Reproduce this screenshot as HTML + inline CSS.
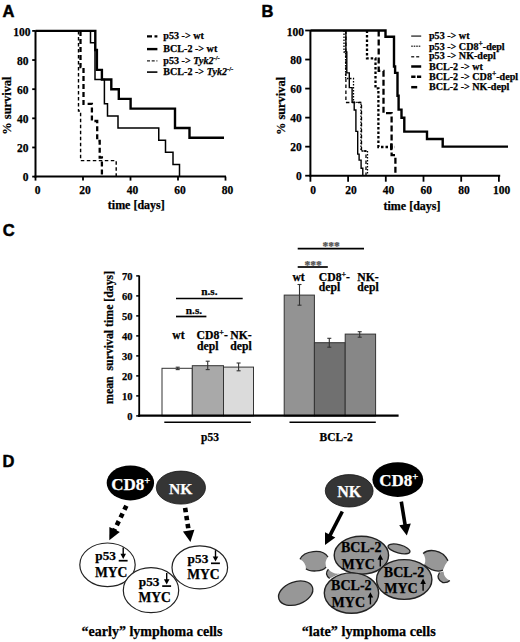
<!DOCTYPE html>
<html><head><meta charset="utf-8"><style>
html,body{margin:0;padding:0;background:#fff;}
svg{display:block;}
</style></head><body>
<svg width="520" height="642" viewBox="0 0 520 642">
<rect width="520" height="642" fill="#fff"/>
<text x="2.5" y="16.8" font-size="16.5" text-anchor="start" fill="#000" stroke="#000" stroke-width="0.5" font-weight="bold" style='font-family:"Liberation Sans", sans-serif' >A</text>
<text x="261.5" y="16.9" font-size="16.5" text-anchor="start" fill="#000" stroke="#000" stroke-width="0.5" font-weight="bold" style='font-family:"Liberation Sans", sans-serif' >B</text>
<text x="2.8" y="236" font-size="16.5" text-anchor="start" fill="#000" stroke="#000" stroke-width="0.5" font-weight="bold" style='font-family:"Liberation Sans", sans-serif' >C</text>
<text x="2.5" y="467.3" font-size="16.5" text-anchor="start" fill="#000" stroke="#000" stroke-width="0.5" font-weight="bold" style='font-family:"Liberation Sans", sans-serif' >D</text>
<line x1="35.5" y1="30.4" x2="35.5" y2="177.6" stroke="#000" stroke-width="2" stroke-linecap="butt"/>
<line x1="34.5" y1="176.6" x2="226.0" y2="176.6" stroke="#000" stroke-width="2" stroke-linecap="butt"/>
<line x1="32.2" y1="176.6" x2="35.5" y2="176.6" stroke="#000" stroke-width="1.8" stroke-linecap="butt"/>
<text x="28.4" y="181.2" font-size="11.5" text-anchor="end" fill="#000" stroke="#000" stroke-width="0.25" font-weight="bold" style='font-family:"Liberation Serif", serif' >0</text>
<line x1="32.2" y1="147.46" x2="35.5" y2="147.46" stroke="#000" stroke-width="1.8" stroke-linecap="butt"/>
<text x="28.4" y="152.06" font-size="11.5" text-anchor="end" fill="#000" stroke="#000" stroke-width="0.25" font-weight="bold" style='font-family:"Liberation Serif", serif' >20</text>
<line x1="32.2" y1="118.32" x2="35.5" y2="118.32" stroke="#000" stroke-width="1.8" stroke-linecap="butt"/>
<text x="28.4" y="122.91999999999999" font-size="11.5" text-anchor="end" fill="#000" stroke="#000" stroke-width="0.25" font-weight="bold" style='font-family:"Liberation Serif", serif' >40</text>
<line x1="32.2" y1="89.18" x2="35.5" y2="89.18" stroke="#000" stroke-width="1.8" stroke-linecap="butt"/>
<text x="28.4" y="93.78" font-size="11.5" text-anchor="end" fill="#000" stroke="#000" stroke-width="0.25" font-weight="bold" style='font-family:"Liberation Serif", serif' >60</text>
<line x1="32.2" y1="60.040000000000006" x2="35.5" y2="60.040000000000006" stroke="#000" stroke-width="1.8" stroke-linecap="butt"/>
<text x="28.4" y="64.64" font-size="11.5" text-anchor="end" fill="#000" stroke="#000" stroke-width="0.25" font-weight="bold" style='font-family:"Liberation Serif", serif' >80</text>
<line x1="32.2" y1="30.900000000000006" x2="35.5" y2="30.900000000000006" stroke="#000" stroke-width="1.8" stroke-linecap="butt"/>
<text x="30.5" y="35.900000000000006" font-size="11.5" text-anchor="end" fill="#000" stroke="#000" stroke-width="0.25" font-weight="bold" style='font-family:"Liberation Serif", serif' >100</text>
<line x1="35.5" y1="176.6" x2="35.5" y2="180.6" stroke="#000" stroke-width="1.8" stroke-linecap="butt"/>
<text x="37.5" y="194.1" font-size="11.5" text-anchor="middle" fill="#000" stroke="#000" stroke-width="0.25" font-weight="bold" style='font-family:"Liberation Serif", serif' >0</text>
<line x1="83.0" y1="176.6" x2="83.0" y2="180.6" stroke="#000" stroke-width="1.8" stroke-linecap="butt"/>
<text x="85.0" y="194.1" font-size="11.5" text-anchor="middle" fill="#000" stroke="#000" stroke-width="0.25" font-weight="bold" style='font-family:"Liberation Serif", serif' >20</text>
<line x1="130.5" y1="176.6" x2="130.5" y2="180.6" stroke="#000" stroke-width="1.8" stroke-linecap="butt"/>
<text x="132.5" y="194.1" font-size="11.5" text-anchor="middle" fill="#000" stroke="#000" stroke-width="0.25" font-weight="bold" style='font-family:"Liberation Serif", serif' >40</text>
<line x1="178.0" y1="176.6" x2="178.0" y2="180.6" stroke="#000" stroke-width="1.8" stroke-linecap="butt"/>
<text x="180.0" y="194.1" font-size="11.5" text-anchor="middle" fill="#000" stroke="#000" stroke-width="0.25" font-weight="bold" style='font-family:"Liberation Serif", serif' >60</text>
<line x1="225.5" y1="176.6" x2="225.5" y2="180.6" stroke="#000" stroke-width="1.8" stroke-linecap="butt"/>
<text x="227.5" y="194.1" font-size="11.5" text-anchor="middle" fill="#000" stroke="#000" stroke-width="0.25" font-weight="bold" style='font-family:"Liberation Serif", serif' >80</text>
<text x="136.3" y="209.2" font-size="12" text-anchor="middle" fill="#000" stroke="#000" stroke-width="0.25" font-weight="bold" style='font-family:"Liberation Serif", serif' >time [days]</text>
<text x="0" y="0" font-size="12.4" text-anchor="middle" fill="#000" stroke="#000" stroke-width="0.25" font-weight="bold" style='font-family:"Liberation Serif", serif' transform="translate(11.3,105.6) rotate(-90)">% survival</text>
<line x1="310.4" y1="30.0" x2="310.4" y2="176.7" stroke="#000" stroke-width="2" stroke-linecap="butt"/>
<line x1="309.4" y1="175.7" x2="500.2" y2="175.7" stroke="#000" stroke-width="2" stroke-linecap="butt"/>
<line x1="305.2" y1="175.7" x2="310.4" y2="175.7" stroke="#000" stroke-width="1.8" stroke-linecap="butt"/>
<text x="301.79999999999995" y="180.29999999999998" font-size="11.5" text-anchor="end" fill="#000" stroke="#000" stroke-width="0.25" font-weight="bold" style='font-family:"Liberation Serif", serif' >0</text>
<line x1="305.2" y1="146.66" x2="310.4" y2="146.66" stroke="#000" stroke-width="1.8" stroke-linecap="butt"/>
<text x="301.79999999999995" y="151.26" font-size="11.5" text-anchor="end" fill="#000" stroke="#000" stroke-width="0.25" font-weight="bold" style='font-family:"Liberation Serif", serif' >20</text>
<line x1="305.2" y1="117.61999999999999" x2="310.4" y2="117.61999999999999" stroke="#000" stroke-width="1.8" stroke-linecap="butt"/>
<text x="301.79999999999995" y="122.21999999999998" font-size="11.5" text-anchor="end" fill="#000" stroke="#000" stroke-width="0.25" font-weight="bold" style='font-family:"Liberation Serif", serif' >40</text>
<line x1="305.2" y1="88.57999999999998" x2="310.4" y2="88.57999999999998" stroke="#000" stroke-width="1.8" stroke-linecap="butt"/>
<text x="301.79999999999995" y="93.17999999999998" font-size="11.5" text-anchor="end" fill="#000" stroke="#000" stroke-width="0.25" font-weight="bold" style='font-family:"Liberation Serif", serif' >60</text>
<line x1="305.2" y1="59.53999999999999" x2="310.4" y2="59.53999999999999" stroke="#000" stroke-width="1.8" stroke-linecap="butt"/>
<text x="301.79999999999995" y="64.13999999999999" font-size="11.5" text-anchor="end" fill="#000" stroke="#000" stroke-width="0.25" font-weight="bold" style='font-family:"Liberation Serif", serif' >80</text>
<line x1="305.2" y1="30.5" x2="310.4" y2="30.5" stroke="#000" stroke-width="1.8" stroke-linecap="butt"/>
<text x="303.9" y="35.5" font-size="11.5" text-anchor="end" fill="#000" stroke="#000" stroke-width="0.25" font-weight="bold" style='font-family:"Liberation Serif", serif' >100</text>
<line x1="310.4" y1="175.7" x2="310.4" y2="181.7" stroke="#000" stroke-width="1.8" stroke-linecap="butt"/>
<text x="313.2" y="194.2" font-size="11.5" text-anchor="middle" fill="#000" stroke="#000" stroke-width="0.25" font-weight="bold" style='font-family:"Liberation Serif", serif' >0</text>
<line x1="348.09999999999997" y1="175.7" x2="348.09999999999997" y2="181.7" stroke="#000" stroke-width="1.8" stroke-linecap="butt"/>
<text x="350.9" y="194.2" font-size="11.5" text-anchor="middle" fill="#000" stroke="#000" stroke-width="0.25" font-weight="bold" style='font-family:"Liberation Serif", serif' >20</text>
<line x1="385.79999999999995" y1="175.7" x2="385.79999999999995" y2="181.7" stroke="#000" stroke-width="1.8" stroke-linecap="butt"/>
<text x="388.59999999999997" y="194.2" font-size="11.5" text-anchor="middle" fill="#000" stroke="#000" stroke-width="0.25" font-weight="bold" style='font-family:"Liberation Serif", serif' >40</text>
<line x1="423.5" y1="175.7" x2="423.5" y2="181.7" stroke="#000" stroke-width="1.8" stroke-linecap="butt"/>
<text x="426.3" y="194.2" font-size="11.5" text-anchor="middle" fill="#000" stroke="#000" stroke-width="0.25" font-weight="bold" style='font-family:"Liberation Serif", serif' >60</text>
<line x1="461.2" y1="175.7" x2="461.2" y2="181.7" stroke="#000" stroke-width="1.8" stroke-linecap="butt"/>
<text x="464.0" y="194.2" font-size="11.5" text-anchor="middle" fill="#000" stroke="#000" stroke-width="0.25" font-weight="bold" style='font-family:"Liberation Serif", serif' >80</text>
<line x1="498.9" y1="175.7" x2="498.9" y2="181.7" stroke="#000" stroke-width="1.8" stroke-linecap="butt"/>
<text x="501.7" y="194.2" font-size="11.5" text-anchor="middle" fill="#000" stroke="#000" stroke-width="0.25" font-weight="bold" style='font-family:"Liberation Serif", serif' >100</text>
<text x="412" y="210" font-size="12" text-anchor="middle" fill="#000" stroke="#000" stroke-width="0.25" font-weight="bold" style='font-family:"Liberation Serif", serif' >time [days]</text>
<text x="0" y="0" font-size="12.4" text-anchor="middle" fill="#000" stroke="#000" stroke-width="0.25" font-weight="bold" style='font-family:"Liberation Serif", serif' transform="translate(285.3,106) rotate(-90)">% survival</text>
<path d="M78.5,30.9 V111 H80.6 V160.6 H116.2 V176.6" stroke="#000" stroke-width="1.4" fill="none" stroke-dasharray="3.5,2.5" />
<path d="M80.5,30.9 V67 H83.5 V103.8 H91.9 V121 H97.2 V141 H99.7 V157.5 H101.9 V176.6" stroke="#000" stroke-width="2.3" fill="none" stroke-dasharray="5,3" />
<path d="M90.5,30.9 V42.8 H95 V79.5 H104.4 V103.8 H107.5 V116 H118 V128 H158.75 V140.2 H165.5 V152.3 H173 V164.5 H179.5 V176.6" stroke="#000" stroke-width="1.5" fill="none" />
<path d="M35.5,30.9 H95.3 V50 H96.9 V69.9 H101.9 V79.5 H111.3 V89.2 H118.8 V98.9 H130.6 V108.6 H175 V128 H189.5 V137.8 H224" stroke="#000" stroke-width="2.4" fill="none" />
<line x1="147" y1="36.3" x2="157.4" y2="36.3" stroke="#000" stroke-width="2.3" stroke-linecap="butt" stroke-dasharray="5,2.5"/>
<text x="163.3" y="39.2" font-size="10.1" text-anchor="start" fill="#000" stroke="#000" stroke-width="0.25" font-weight="bold" style='font-family:"Liberation Serif", serif' >p53 -&gt; wt</text>
<line x1="147" y1="49.1" x2="157.4" y2="49.1" stroke="#000" stroke-width="2.4" stroke-linecap="butt"/>
<text x="163.3" y="51.7" font-size="10.1" text-anchor="start" fill="#000" stroke="#000" stroke-width="0.25" font-weight="bold" style='font-family:"Liberation Serif", serif' >BCL-2 -&gt; wt</text>
<line x1="147" y1="60.9" x2="157.4" y2="60.9" stroke="#222" stroke-width="1.3" stroke-linecap="butt" stroke-dasharray="3,1.7"/>
<text x="163.3" y="63.5" font-size="10.1" text-anchor="start" fill="#000" stroke="#000" stroke-width="0.25" font-weight="bold" style='font-family:"Liberation Serif", serif' >p53 -&gt; <tspan font-style="italic">Tyk2</tspan><tspan font-size="6.5" dy="-4">-/-</tspan></text>
<line x1="147" y1="72.1" x2="157.4" y2="72.1" stroke="#111" stroke-width="1.7" stroke-linecap="butt"/>
<text x="163.3" y="75.1" font-size="10.1" text-anchor="start" fill="#000" stroke="#000" stroke-width="0.25" font-weight="bold" style='font-family:"Liberation Serif", serif' >BCL-2 -&gt; <tspan font-style="italic">Tyk2</tspan><tspan font-size="6.5" dy="-4">-/-</tspan></text>
<path d="M344.0,30.5 V52 H345.6 V78.5 H353.5 V102.3 H361 V151 H367.5 V175.7" stroke="#000" stroke-width="1.3" fill="none" stroke-dasharray="1.5,1.5" />
<path d="M345.9,30.5 V102.5 H361.5 V151 H366 V175.7" stroke="#000" stroke-width="1.3" fill="none" stroke-dasharray="3.5,2.5" />
<path d="M345.9,30.5 V52 H346.8 V72.9 H349.3 V87.6 H352.1 V102.3 H354.2 V110 H355.9 V131.4 H357.7 V154.1 H359.1 V160.1 H361.1 V168.3 H362.8 V175.7" stroke="#000" stroke-width="1.4" fill="none" />
<path d="M367,30.5 V58.3 H375.5 V88.3 H378.4 V147 H394.7" stroke="#000" stroke-width="2.3" fill="none" stroke-dasharray="2.5,2" />
<line x1="391.2" y1="143.4" x2="391.2" y2="150.2" stroke="#000" stroke-width="2.2" stroke-linecap="butt"/>
<path d="M378.7,30.5 V70.9 H383.5 V113.2 H391.6 V155.2 H395.4 V175.7" stroke="#000" stroke-width="2.3" fill="none" stroke-dasharray="6,3" />
<path d="M310.4,30.5 H385.5 V36.7 H394 V66.5 H395.1 V72.9 H397.5 V95.7 H398.6 V109.6 H401.5 V117.7 H404.3 V131.6 H427 V139 H442.7 V146.6 H508" stroke="#000" stroke-width="2.4" fill="none" />
<line x1="411.2" y1="36.1" x2="421.2" y2="36.1" stroke="#444" stroke-width="1.5" stroke-linecap="butt"/>
<text x="429.0" y="39.3" font-size="10.1" text-anchor="start" fill="#000" stroke="#000" stroke-width="0.25" font-weight="bold" style='font-family:"Liberation Serif", serif' >p53 -&gt; wt</text>
<line x1="411.2" y1="46.2" x2="421.2" y2="46.2" stroke="#444" stroke-width="1.5" stroke-linecap="butt" stroke-dasharray="1.6,0.9"/>
<text x="429.0" y="49.6" font-size="10.1" text-anchor="start" fill="#000" stroke="#000" stroke-width="0.25" font-weight="bold" style='font-family:"Liberation Serif", serif' >p53 -&gt; CD8<tspan font-size="7.5" dy="-4">+</tspan><tspan dy="4">-depl</tspan></text>
<line x1="411.2" y1="56.8" x2="421.2" y2="56.8" stroke="#333" stroke-width="1.5" stroke-linecap="butt" stroke-dasharray="3,2"/>
<text x="429.0" y="59.4" font-size="10.1" text-anchor="start" fill="#000" stroke="#000" stroke-width="0.25" font-weight="bold" style='font-family:"Liberation Serif", serif' >p53 -&gt; NK-depl</text>
<line x1="411.2" y1="66.5" x2="421.2" y2="66.5" stroke="#000" stroke-width="2.5" stroke-linecap="butt"/>
<text x="429.0" y="69.7" font-size="10.1" text-anchor="start" fill="#000" stroke="#000" stroke-width="0.25" font-weight="bold" style='font-family:"Liberation Serif", serif' >BCL-2 -&gt; wt</text>
<line x1="411.2" y1="76.8" x2="421.2" y2="76.8" stroke="#000" stroke-width="2.5" stroke-linecap="butt" stroke-dasharray="4.3,1.5"/>
<text x="429.0" y="79.7" font-size="10.1" text-anchor="start" fill="#000" stroke="#000" stroke-width="0.25" font-weight="bold" style='font-family:"Liberation Serif", serif' >BCL-2 -&gt; CD8<tspan font-size="7.5" dy="-4">+</tspan><tspan dy="4">-depl</tspan></text>
<line x1="411.2" y1="87.2" x2="417.2" y2="87.2" stroke="#000" stroke-width="2.5" stroke-linecap="butt"/>
<text x="429.0" y="89.6" font-size="10.1" text-anchor="start" fill="#000" stroke="#000" stroke-width="0.25" font-weight="bold" style='font-family:"Liberation Serif", serif' >BCL-2 -&gt; NK-depl</text>
<line x1="139.2" y1="275.5" x2="139.2" y2="416.9" stroke="#000" stroke-width="1.8" stroke-linecap="butt"/>
<line x1="136.2" y1="415.9" x2="139.2" y2="415.9" stroke="#000" stroke-width="1.5" stroke-linecap="butt"/>
<text x="132.6" y="419.59999999999997" font-size="10.5" text-anchor="end" fill="#000" stroke="#000" stroke-width="0.25" font-weight="bold" style='font-family:"Liberation Serif", serif' >0</text>
<line x1="136.2" y1="395.9" x2="139.2" y2="395.9" stroke="#000" stroke-width="1.5" stroke-linecap="butt"/>
<text x="132.6" y="399.59999999999997" font-size="10.5" text-anchor="end" fill="#000" stroke="#000" stroke-width="0.25" font-weight="bold" style='font-family:"Liberation Serif", serif' >10</text>
<line x1="136.2" y1="375.9" x2="139.2" y2="375.9" stroke="#000" stroke-width="1.5" stroke-linecap="butt"/>
<text x="132.6" y="379.59999999999997" font-size="10.5" text-anchor="end" fill="#000" stroke="#000" stroke-width="0.25" font-weight="bold" style='font-family:"Liberation Serif", serif' >20</text>
<line x1="136.2" y1="355.9" x2="139.2" y2="355.9" stroke="#000" stroke-width="1.5" stroke-linecap="butt"/>
<text x="132.6" y="359.59999999999997" font-size="10.5" text-anchor="end" fill="#000" stroke="#000" stroke-width="0.25" font-weight="bold" style='font-family:"Liberation Serif", serif' >30</text>
<line x1="136.2" y1="335.9" x2="139.2" y2="335.9" stroke="#000" stroke-width="1.5" stroke-linecap="butt"/>
<text x="132.6" y="339.59999999999997" font-size="10.5" text-anchor="end" fill="#000" stroke="#000" stroke-width="0.25" font-weight="bold" style='font-family:"Liberation Serif", serif' >40</text>
<line x1="136.2" y1="315.9" x2="139.2" y2="315.9" stroke="#000" stroke-width="1.5" stroke-linecap="butt"/>
<text x="132.6" y="319.59999999999997" font-size="10.5" text-anchor="end" fill="#000" stroke="#000" stroke-width="0.25" font-weight="bold" style='font-family:"Liberation Serif", serif' >50</text>
<line x1="136.2" y1="295.9" x2="139.2" y2="295.9" stroke="#000" stroke-width="1.5" stroke-linecap="butt"/>
<text x="132.6" y="299.59999999999997" font-size="10.5" text-anchor="end" fill="#000" stroke="#000" stroke-width="0.25" font-weight="bold" style='font-family:"Liberation Serif", serif' >60</text>
<line x1="136.2" y1="275.9" x2="139.2" y2="275.9" stroke="#000" stroke-width="1.5" stroke-linecap="butt"/>
<text x="132.6" y="279.59999999999997" font-size="10.5" text-anchor="end" fill="#000" stroke="#000" stroke-width="0.25" font-weight="bold" style='font-family:"Liberation Serif", serif' >70</text>
<text x="0" y="0" font-size="11.8" text-anchor="middle" fill="#000" stroke="#000" stroke-width="0.25" font-weight="bold" style='font-family:"Liberation Serif", serif' transform="translate(113.2,337.4) rotate(-90)" xml:space="preserve">mean  survival time [days]</text>
<rect x="162" y="368.29999999999995" width="30.30000000000001" height="47.60000000000002" fill="#ffffff" stroke="#333" stroke-width="1"/>
<rect x="192.3" y="365.7" width="31.19999999999999" height="50.19999999999999" fill="#a9a9a9" stroke="#333" stroke-width="1"/>
<rect x="223.5" y="367.09999999999997" width="30.0" height="48.80000000000001" fill="#dbdbdb" stroke="#333" stroke-width="1"/>
<rect x="284.2" y="295.09999999999997" width="30.19999999999999" height="120.80000000000001" fill="#939393" stroke="#333" stroke-width="1"/>
<rect x="314.4" y="342.7" width="30.80000000000001" height="73.19999999999999" fill="#707070" stroke="#333" stroke-width="1"/>
<rect x="345.2" y="334.09999999999997" width="30.400000000000034" height="81.80000000000001" fill="#878787" stroke="#333" stroke-width="1"/>
<line x1="177.7" y1="367.2" x2="177.7" y2="369.6" stroke="#333" stroke-width="1.1" stroke-linecap="butt"/>
<line x1="175.7" y1="367.2" x2="179.7" y2="367.2" stroke="#333" stroke-width="1.1" stroke-linecap="butt"/>
<line x1="175.7" y1="369.6" x2="179.7" y2="369.6" stroke="#333" stroke-width="1.1" stroke-linecap="butt"/>
<line x1="207.7" y1="361.2" x2="207.7" y2="369.6" stroke="#333" stroke-width="1.1" stroke-linecap="butt"/>
<line x1="205.7" y1="361.2" x2="209.7" y2="361.2" stroke="#333" stroke-width="1.1" stroke-linecap="butt"/>
<line x1="205.7" y1="369.6" x2="209.7" y2="369.6" stroke="#333" stroke-width="1.1" stroke-linecap="butt"/>
<line x1="238.6" y1="363" x2="238.6" y2="370.8" stroke="#333" stroke-width="1.1" stroke-linecap="butt"/>
<line x1="236.6" y1="363" x2="240.6" y2="363" stroke="#333" stroke-width="1.1" stroke-linecap="butt"/>
<line x1="236.6" y1="370.8" x2="240.6" y2="370.8" stroke="#333" stroke-width="1.1" stroke-linecap="butt"/>
<line x1="299.5" y1="284.5" x2="299.5" y2="305.2" stroke="#333" stroke-width="1.1" stroke-linecap="butt"/>
<line x1="297.5" y1="284.5" x2="301.5" y2="284.5" stroke="#333" stroke-width="1.1" stroke-linecap="butt"/>
<line x1="297.5" y1="305.2" x2="301.5" y2="305.2" stroke="#333" stroke-width="1.1" stroke-linecap="butt"/>
<line x1="329.3" y1="338.3" x2="329.3" y2="347.2" stroke="#333" stroke-width="1.1" stroke-linecap="butt"/>
<line x1="327.3" y1="338.3" x2="331.3" y2="338.3" stroke="#333" stroke-width="1.1" stroke-linecap="butt"/>
<line x1="327.3" y1="347.2" x2="331.3" y2="347.2" stroke="#333" stroke-width="1.1" stroke-linecap="butt"/>
<line x1="359.7" y1="331.7" x2="359.7" y2="337.2" stroke="#333" stroke-width="1.1" stroke-linecap="butt"/>
<line x1="357.7" y1="331.7" x2="361.7" y2="331.7" stroke="#333" stroke-width="1.1" stroke-linecap="butt"/>
<line x1="357.7" y1="337.2" x2="361.7" y2="337.2" stroke="#333" stroke-width="1.1" stroke-linecap="butt"/>
<line x1="138.2" y1="415.59999999999997" x2="398.6" y2="415.59999999999997" stroke="#000" stroke-width="2.2" stroke-linecap="butt"/>
<line x1="164.3" y1="422.2" x2="250.9" y2="422.2" stroke="#000" stroke-width="1.6" stroke-linecap="butt"/>
<line x1="289.5" y1="422.2" x2="375.8" y2="422.2" stroke="#000" stroke-width="1.6" stroke-linecap="butt"/>
<text x="210" y="440.5" font-size="11.5" text-anchor="middle" fill="#000" stroke="#000" stroke-width="0.25" font-weight="bold" style='font-family:"Liberation Serif", serif' >p53</text>
<text x="336.2" y="440.5" font-size="11.5" text-anchor="middle" fill="#000" stroke="#000" stroke-width="0.25" font-weight="bold" style='font-family:"Liberation Serif", serif' >BCL-2</text>
<line x1="176" y1="298.5" x2="242.7" y2="298.5" stroke="#000" stroke-width="1.7" stroke-linecap="butt"/>
<text x="209.3" y="294.5" font-size="11.3" text-anchor="middle" fill="#000" stroke="#000" stroke-width="0.25" font-weight="bold" style='font-family:"Liberation Serif", serif' >n.s.</text>
<line x1="176" y1="316.5" x2="206.4" y2="316.5" stroke="#000" stroke-width="1.7" stroke-linecap="butt"/>
<text x="194" y="314.2" font-size="11.3" text-anchor="middle" fill="#000" stroke="#000" stroke-width="0.25" font-weight="bold" style='font-family:"Liberation Serif", serif' >n.s.</text>
<line x1="297.7" y1="248.6" x2="364" y2="248.6" stroke="#000" stroke-width="1.7" stroke-linecap="butt"/>
<text x="331" y="250.2" font-size="11.5" text-anchor="middle" fill="#555" stroke="#555" stroke-width="0.25" font-weight="bold" style='font-family:"Liberation Serif", serif' >***</text>
<line x1="297.7" y1="267" x2="327.8" y2="267" stroke="#000" stroke-width="1.7" stroke-linecap="butt"/>
<text x="313" y="268.8" font-size="11.5" text-anchor="middle" fill="#555" stroke="#555" stroke-width="0.25" font-weight="bold" style='font-family:"Liberation Serif", serif' >***</text>
<text x="172.3" y="339.2" font-size="11.7" text-anchor="start" fill="#000" stroke="#000" stroke-width="0.25" font-weight="bold" style='font-family:"Liberation Serif", serif' >wt</text>
<text x="196.6" y="339.2" font-size="11.7" text-anchor="start" fill="#000" stroke="#000" stroke-width="0.25" font-weight="bold" style='font-family:"Liberation Serif", serif' >CD8<tspan font-size="8" dy="-4.2">+</tspan><tspan dy="4.2">-</tspan></text>
<text x="230.2" y="339.2" font-size="11.7" text-anchor="start" fill="#000" stroke="#000" stroke-width="0.25" font-weight="bold" style='font-family:"Liberation Serif", serif' >NK-</text>
<text x="197" y="349.5" font-size="11.7" text-anchor="start" fill="#000" stroke="#000" stroke-width="0.25" font-weight="bold" style='font-family:"Liberation Serif", serif' >depl</text>
<text x="230.2" y="349.5" font-size="11.7" text-anchor="start" fill="#000" stroke="#000" stroke-width="0.25" font-weight="bold" style='font-family:"Liberation Serif", serif' >depl</text>
<text x="292.4" y="281" font-size="11.7" text-anchor="start" fill="#000" stroke="#000" stroke-width="0.25" font-weight="bold" style='font-family:"Liberation Serif", serif' >wt</text>
<text x="318.8" y="281" font-size="11.7" text-anchor="start" fill="#000" stroke="#000" stroke-width="0.25" font-weight="bold" style='font-family:"Liberation Serif", serif' >CD8<tspan font-size="8" dy="-4.2">+</tspan><tspan dy="4.2">-</tspan></text>
<text x="357.2" y="281" font-size="11.7" text-anchor="start" fill="#000" stroke="#000" stroke-width="0.25" font-weight="bold" style='font-family:"Liberation Serif", serif' >NK-</text>
<text x="318.8" y="290.5" font-size="11.7" text-anchor="start" fill="#000" stroke="#000" stroke-width="0.25" font-weight="bold" style='font-family:"Liberation Serif", serif' >depl</text>
<text x="357.2" y="290.5" font-size="11.7" text-anchor="start" fill="#000" stroke="#000" stroke-width="0.25" font-weight="bold" style='font-family:"Liberation Serif", serif' >depl</text>
<ellipse cx="130.4" cy="482.9" rx="23.7" ry="17.5" fill="#000" stroke="none" stroke-width="1.3"/>
<ellipse cx="180.9" cy="487.6" rx="24.6" ry="16.5" fill="#353535" stroke="#151515" stroke-width="0.8"/>
<text x="111.3" y="489.8" font-size="17" text-anchor="start" fill="#fff" stroke="#fff" stroke-width="0.25" font-weight="bold" style='font-family:"Liberation Serif", serif' >CD8<tspan font-size="10.5" dy="-5.5">+</tspan></text>
<text x="180.8" y="493.7" font-size="15.6" text-anchor="middle" fill="#fff" stroke="#fff" stroke-width="0.25" font-weight="bold" style='font-family:"Liberation Serif", serif' >NK</text>
<line x1="126.4" y1="505.7" x2="114.17369488623943" y2="530.4386056687787" stroke="#000" stroke-width="4.6" stroke-linecap="butt" stroke-dasharray="4.5,4.1"/>
<polygon points="109.3,540.3 109.41711377398087,526.9723488804686 119.81640234145061,532.1118816695939" fill="#000"/>
<line x1="185.1" y1="507.8" x2="188.81811303767452" y2="531.7221989782455" stroke="#000" stroke-width="4.6" stroke-linecap="butt" stroke-dasharray="4.5,3.6"/>
<polygon points="190.4,541.9 182.9333428543249,531.6248342558896 194.39572070406774,529.8432916575424" fill="#000"/>
<ellipse cx="107.5" cy="564.8" rx="27.7" ry="21.8" fill="#fff" stroke="#222" stroke-width="1.2"/>
<ellipse cx="151" cy="590.2" rx="27.7" ry="22.5" fill="#fff" stroke="#222" stroke-width="1.2"/>
<ellipse cx="199.8" cy="567.4" rx="27.8" ry="21.5" fill="#fff" stroke="#222" stroke-width="1.2"/>
<text x="95.3" y="560.4" font-size="13.3" text-anchor="start" fill="#000" stroke="#000" stroke-width="0.25" font-weight="bold" style='font-family:"Liberation Serif", serif' >p53</text>
<line x1="123.2" y1="547.5999999999999" x2="123.2" y2="555.8" stroke="#000" stroke-width="1.4" stroke-linecap="butt"/>
<polygon points="120.4,553.8 126.0,553.8 123.2,559.0" fill="#000"/>
<line x1="118.7" y1="560.6999999999999" x2="127.6" y2="560.6999999999999" stroke="#000" stroke-width="1.7" stroke-linecap="butt"/>
<text x="94.9" y="576.6999999999999" font-size="13.6" text-anchor="start" fill="#000" stroke="#000" stroke-width="0.25" font-weight="bold" style='font-family:"Liberation Serif", serif' >MYC</text>
<text x="138.8" y="585.8000000000001" font-size="13.3" text-anchor="start" fill="#000" stroke="#000" stroke-width="0.25" font-weight="bold" style='font-family:"Liberation Serif", serif' >p53</text>
<line x1="166.7" y1="573.0" x2="166.7" y2="581.2" stroke="#000" stroke-width="1.4" stroke-linecap="butt"/>
<polygon points="163.89999999999998,579.2 169.5,579.2 166.7,584.4000000000001" fill="#000"/>
<line x1="162.2" y1="586.1" x2="171.1" y2="586.1" stroke="#000" stroke-width="1.7" stroke-linecap="butt"/>
<text x="138.4" y="602.1" font-size="13.6" text-anchor="start" fill="#000" stroke="#000" stroke-width="0.25" font-weight="bold" style='font-family:"Liberation Serif", serif' >MYC</text>
<text x="187.60000000000002" y="563.0" font-size="13.3" text-anchor="start" fill="#000" stroke="#000" stroke-width="0.25" font-weight="bold" style='font-family:"Liberation Serif", serif' >p53</text>
<line x1="215.5" y1="550.1999999999999" x2="215.5" y2="558.4" stroke="#000" stroke-width="1.4" stroke-linecap="butt"/>
<polygon points="212.7,556.4 218.3,556.4 215.5,561.6" fill="#000"/>
<line x1="211.0" y1="563.3" x2="219.9" y2="563.3" stroke="#000" stroke-width="1.7" stroke-linecap="butt"/>
<text x="187.20000000000002" y="579.3" font-size="13.6" text-anchor="start" fill="#000" stroke="#000" stroke-width="0.25" font-weight="bold" style='font-family:"Liberation Serif", serif' >MYC</text>
<text x="152" y="636.4" font-size="14" text-anchor="middle" fill="#000" stroke="#000" stroke-width="0.25" font-weight="bold" style='font-family:"Liberation Serif", serif' >“early” lymphoma cells</text>
<ellipse cx="349.2" cy="490.8" rx="23.9" ry="16.2" fill="#353535" stroke="#151515" stroke-width="0.8"/>
<ellipse cx="397.8" cy="479.6" rx="25.4" ry="17.3" fill="#000" stroke="none" stroke-width="1.3"/>
<text x="349.3" y="496.5" font-size="16" text-anchor="middle" fill="#fff" stroke="#fff" stroke-width="0.25" font-weight="bold" style='font-family:"Liberation Serif", serif' >NK</text>
<text x="379.3" y="485.5" font-size="17" text-anchor="start" fill="#fff" stroke="#fff" stroke-width="0.25" font-weight="bold" style='font-family:"Liberation Serif", serif' >CD8<tspan font-size="10.5" dy="-5.5">+</tspan></text>
<line x1="342.3" y1="511.5" x2="329.7261095640443" y2="535.8482849482378" stroke="#000" stroke-width="3.6" stroke-linecap="butt"/>
<polygon points="325,545 325.0315622110175,532.2984645090904 335.33834809455544,537.6210733384995" fill="#000"/>
<line x1="401.3" y1="501.6" x2="405.1504772648036" y2="525.3329416866986" stroke="#000" stroke-width="3.6" stroke-linecap="butt"/>
<polygon points="406.8,535.5 399.1664804896896,525.290720892947 410.8141783631805,523.4009764001977" fill="#000"/>
<ellipse cx="295.7" cy="593.2" rx="17.8" ry="11.3" fill="#979797" stroke="#222" stroke-width="1.3" transform="rotate(-20 295.7 593.2)"/>
<ellipse cx="399" cy="548.9" rx="11.3" ry="4.1" fill="#979797" stroke="#222" stroke-width="1.3" transform="rotate(15 399 548.9)"/>
<path d="M300,559.2 C304,551 322,548 328,557 Q324.5,561 326.1,567.1 C322,572 310,572 305.9,568.7 Q306,562.5 300,559.2 Z" fill="#979797" stroke="none"/>
<path d="M300,559.2 C304,551 322,548 328,557" fill="none" stroke="#222" stroke-width="1.3"/>
<path d="M326.1,567.1 C322,572 310,572 305.9,568.7" fill="none" stroke="#222" stroke-width="1.3"/>
<path d="M328.4,569.2 Q324,574 329.6,578.6 L339.7,573.5 Q333,574.5 328.4,569.2 Z" fill="#979797" stroke="none"/>
<path d="M328.4,569.2 Q324,574 329.6,578.6" fill="none" stroke="#222" stroke-width="1.3"/>
<path d="M423.1,553.4 C428,549 442,548.5 448,560.7 Q444.5,565 442.9,570.2 Q435,573.5 424.2,565 Q427,559 423.1,553.4 Z" fill="#979797" stroke="none"/>
<path d="M423.1,553.4 C428,549 442,548.5 448,560.7" fill="none" stroke="#222" stroke-width="1.3"/>
<path d="M442.9,570.2 Q435,573.5 424.2,565" fill="none" stroke="#222" stroke-width="1.3"/>
<path d="M439.5,572.5 Q435.5,579 442.9,582.6 Q447.5,583 449.8,580.5 Q444,578 443.5,571.5 Z" fill="#979797" stroke="none"/>
<path d="M439.5,572.5 Q435.5,579 442.9,582.6 Q447.5,583 449.8,580.5" fill="none" stroke="#222" stroke-width="1.3"/>
<ellipse cx="361.4" cy="555.25" rx="27.2" ry="19" fill="#979797" stroke="#222" stroke-width="1.4"/>
<text x="341.0" y="552.35" font-size="14" text-anchor="start" fill="#000" stroke="#000" stroke-width="0.25" font-weight="bold" style='font-family:"Liberation Serif", serif' >BCL-2</text>
<text x="341.5" y="569.05" font-size="14" text-anchor="start" fill="#000" stroke="#000" stroke-width="0.25" font-weight="bold" style='font-family:"Liberation Serif", serif' >MYC</text>
<line x1="380.29999999999995" y1="566.55" x2="380.29999999999995" y2="558.25" stroke="#000" stroke-width="1.4" stroke-linecap="butt"/>
<polygon points="377.49999999999994,559.65 383.09999999999997,559.65 380.29999999999995,554.35" fill="#000"/>
<ellipse cx="404.2" cy="579.5" rx="27.7" ry="19.9" fill="#979797" stroke="#222" stroke-width="1.4"/>
<text x="383.8" y="576.6" font-size="14" text-anchor="start" fill="#000" stroke="#000" stroke-width="0.25" font-weight="bold" style='font-family:"Liberation Serif", serif' >BCL-2</text>
<text x="384.3" y="593.3" font-size="14" text-anchor="start" fill="#000" stroke="#000" stroke-width="0.25" font-weight="bold" style='font-family:"Liberation Serif", serif' >MYC</text>
<line x1="423.09999999999997" y1="590.8" x2="423.09999999999997" y2="582.5" stroke="#000" stroke-width="1.4" stroke-linecap="butt"/>
<polygon points="420.29999999999995,583.9 425.9,583.9 423.09999999999997,578.6" fill="#000"/>
<ellipse cx="351.5" cy="593.1" rx="27.2" ry="20.2" fill="#979797" stroke="#222" stroke-width="1.4"/>
<text x="331.1" y="590.2" font-size="14" text-anchor="start" fill="#000" stroke="#000" stroke-width="0.25" font-weight="bold" style='font-family:"Liberation Serif", serif' >BCL-2</text>
<text x="331.6" y="606.9" font-size="14" text-anchor="start" fill="#000" stroke="#000" stroke-width="0.25" font-weight="bold" style='font-family:"Liberation Serif", serif' >MYC</text>
<line x1="370.4" y1="604.4" x2="370.4" y2="596.1" stroke="#000" stroke-width="1.4" stroke-linecap="butt"/>
<polygon points="367.59999999999997,597.5 373.2,597.5 370.4,592.2" fill="#000"/>
<text x="368.7" y="636.4" font-size="14.2" text-anchor="middle" fill="#000" stroke="#000" stroke-width="0.25" font-weight="bold" style='font-family:"Liberation Serif", serif' >“late” lymphoma cells</text>
</svg>
</body></html>
